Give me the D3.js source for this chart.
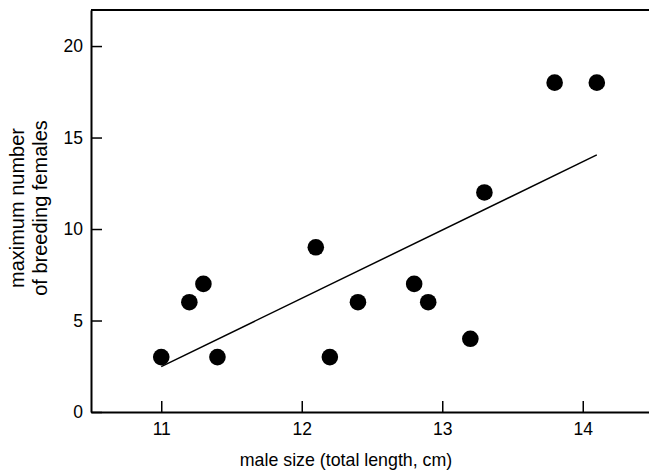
<!DOCTYPE html>
<html><head><meta charset="utf-8">
<script src="https://cdn.jsdelivr.net/npm/d3@7"></script>
<style>body{margin:0;background:#fff}svg{display:block}text{font-family:"Liberation Sans",Arial,sans-serif;fill:#000}</style>
</head><body>
<svg id="c" width="649" height="472"></svg>
<script>
const maleSize = [11, 11.2, 11.3, 11.4, 12.1, 12.2, 12.4, 12.8, 12.9, 13.2, 13.3, 13.8, 14.1];
const females = [3, 6, 7, 3, 9, 3, 6, 7, 6, 4, 12, 18, 18];
const fitX = [11, 14.1];
const fitY = [2.48, 14.05];
const xTicks = [11, 12, 13, 14];
const yTicks = [0, 5, 10, 15, 20];

const svg = d3.select("#c");
const mLeft = 91, mRight = 653, mTop = 10, mBottom = 412;
const x = d3.scaleLinear().domain([10.5, 14.5]).range([mLeft, mRight]);
const y = d3.scaleLinear().domain([0, 21.97]).range([mBottom, mTop]);

// frame
svg.append("line").attr("x1", mLeft).attr("x2", mRight).attr("y1", mTop).attr("y2", mTop)
  .attr("stroke", "#000").attr("stroke-width", 2);
const xa = svg.append("g").attr("transform", `translate(0,${mBottom})`)
  .call(d3.axisBottom(x).tickValues(xTicks).tickSizeInner(-11).tickSizeOuter(0).tickPadding(11).tickFormat(d3.format("d")));
const ya = svg.append("g").attr("transform", `translate(${mLeft},0)`)
  .call(d3.axisLeft(y).tickValues(yTicks).tickSizeInner(-11).tickSizeOuter(0).tickPadding(8).tickFormat(d3.format("d")));
[xa, ya].forEach(a => {
  a.select(".domain").attr("stroke-width", 2);
  a.selectAll(".tick line").attr("stroke-width", 1.5);
  a.selectAll("text").attr("font-size", 17.5).attr("font-family", '"Liberation Sans",Arial,sans-serif');
});
xa.selectAll(".tick text").attr("dy", "0.71em");

// fit line
svg.append("line")
  .attr("x1", x(fitX[0])).attr("y1", y(fitY[0]))
  .attr("x2", x(fitX[1])).attr("y2", y(fitY[1]))
  .attr("stroke", "#000").attr("stroke-width", 1.5);

// points
svg.append("g").selectAll("circle").data(maleSize).join("circle")
  .attr("cx", d => x(d)).attr("cy", (d, i) => y(females[i])).attr("r", 8.3).attr("fill", "#000");

// titles
svg.append("text").attr("x", 346).attr("y", 466).attr("text-anchor", "middle")
  .attr("font-size", 17.8).text("male size (total length, cm)");
const yt = svg.append("text").attr("transform", "translate(24,208) rotate(-90)")
  .attr("text-anchor", "middle").attr("font-size", 20);
yt.append("tspan").attr("x", 0).attr("dy", 0).text("maximum number");
yt.append("tspan").attr("x", 0).attr("dy", 23).text("of breeding females");
</script>
</body></html>
